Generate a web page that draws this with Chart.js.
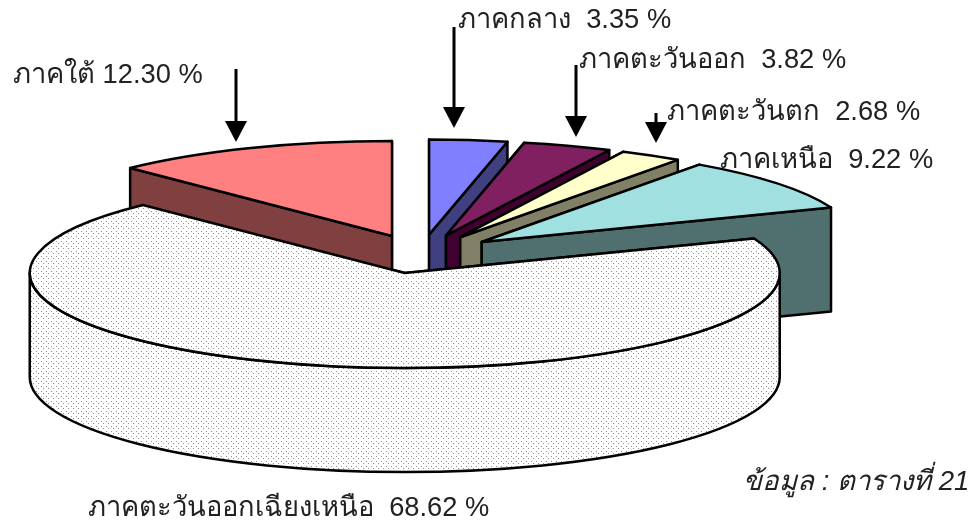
<!DOCTYPE html>
<html lang="th">
<head>
<meta charset="utf-8">
<title>Pie</title>
<script src="https://cdn.jsdelivr.net/npm/chart.js@4"></script>
<style>
  html, body { margin: 0; background: #fff; }
  canvas { display: block; }
</style>
</head>
<body>
<canvas id="regionChart" width="974" height="521"></canvas>
<script>
const categories = ['ภาคกลาง', 'ภาคตะวันออก', 'ภาคตะวันตก', 'ภาคเหนือ', 'ภาคตะวันออกเฉียงเหนือ', 'ภาคใต้'];
const shares = [3.35, 3.82, 2.68, 9.22, 68.62, 12.30];
const sourceNote = 'ข้อมูล : ตารางที่ 21';

const topColors = ['#8080ff', '#802060', '#ffffcc', '#a0e0e0', '#fff', '#ff8080'];
const wallColors = ['#404080', '#400030', '#808066', '#507070', null, '#804040'];

// pie geometry on the page
const centerX = 421, centerY = 254, radius = 375;
const squash = 0.2533, explode = 77, depth = 104;

// label anchors, same order as categories
const labelPos = [[458, 28], [579, 68], [667, 120], [720, 168], [88, 516], [13, 83]];
const labelGap = ['  ', '  ', '  ', '  ', '  ', ' '];
const arrows = [[454, 27, 128], [576, 65, 137], [656, 113, 143], [236, 69, 142]];

function dotPattern() {
  const tile = document.createElement('canvas');
  tile.width = 5; tile.height = 5;
  const t = tile.getContext('2d');
  t.fillStyle = '#fff';
  t.fillRect(0, 0, 5, 5);
  t.fillStyle = '#909090';
  t.fillRect(1, 1, 1, 1);
  t.fillRect(3, 3, 1, 1);
  return tile;
}

const ctx = document.getElementById('regionChart').getContext('2d');
const dots = ctx.createPattern(dotPattern(), 'repeat');

function apex(arc) {
  return { x: arc.x, y: centerY + (arc.y - centerY) * squash };
}

function rim(arc, angle) {
  const a = apex(arc);
  return { x: a.x + Math.cos(angle) * radius, y: a.y + Math.sin(angle) * radius * squash };
}

function radialWall(c, arc, angle) {
  const a = apex(arc), r = rim(arc, angle);
  c.beginPath();
  c.moveTo(a.x, a.y);
  c.lineTo(r.x, r.y);
  c.lineTo(r.x, r.y + depth);
  c.lineTo(a.x, a.y + depth);
  c.closePath();
  c.fill();
  c.stroke();
}

function drawWalls(c, arc, i) {
  c.fillStyle = wallColors[i] || dots;
  const edges = [arc.startAngle, arc.endAngle].sort((p, q) => rim(arc, p).y - rim(arc, q).y);
  edges.forEach((e) => radialWall(c, arc, e));

  // outer wall, only the part facing the viewer
  const from = Math.max(arc.startAngle, 0), to = Math.min(arc.endAngle, Math.PI);
  if (to > from) {
    const a = apex(arc), rx = radius, ry = radius * squash;
    c.beginPath();
    c.ellipse(a.x, a.y, rx, ry, 0, from, to);
    c.ellipse(a.x, a.y + depth, rx, ry, 0, to, from, true);
    c.closePath();
    c.fill();
    c.stroke();
  }
}

const pie3d = {
  id: 'pie3d',
  afterDatasetsUpdate(chart) {
    chart.getDatasetMeta(0).data.forEach((arc) => {
      const mid = (arc.startAngle + arc.endAngle) / 2;
      arc.x = centerX + Math.cos(mid) * explode;
      arc.y = centerY + Math.sin(mid) * explode;
    });
  },
  beforeDatasetsDraw(chart) {
    const c = chart.ctx;
    c.save();
    c.lineWidth = 2.5;
    c.lineJoin = 'round';
    c.strokeStyle = '#000';
    chart.getDatasetMeta(0).data.forEach((arc, i) => drawWalls(c, arc, i));
    c.restore();
    c.save();
    c.transform(1, 0, 0, squash, 0, centerY * (1 - squash));
  },
  afterDatasetsDraw(chart) {
    const c = chart.ctx;
    c.restore();
    c.save();
    c.lineWidth = 2.5;
    c.lineJoin = 'round';
    c.strokeStyle = '#000';
    chart.getDatasetMeta(0).data.forEach((arc, i) => {
      const a = apex(arc);
      c.beginPath();
      c.moveTo(a.x, a.y);
      c.ellipse(a.x, a.y, radius, radius * squash, 0, arc.startAngle, arc.endAngle);
      c.closePath();
      // dotted slice gets its pattern here, outside the squash transform
      if (!wallColors[i]) {
        c.fillStyle = dots;
        c.fill();
      }
      c.stroke();
    });
    c.restore();
  },
  afterDraw(chart) {
    const c = chart.ctx;
    c.save();
    c.fillStyle = '#222';
    c.font = '27.3px "Liberation Sans", "Noto Sans", "DejaVu Sans", sans-serif';
    c.textBaseline = 'alphabetic';
    categories.forEach((name, i) => {
      c.fillText(name + labelGap[i] + shares[i].toFixed(2) + ' %', labelPos[i][0], labelPos[i][1]);
    });
    c.font = 'italic 27.6px "Liberation Sans", "Noto Sans", "DejaVu Sans", sans-serif';
    c.fillText(sourceNote, 743, 490);

    c.fillStyle = '#000';
    arrows.forEach(([x, y0, y1]) => {
      c.fillRect(x - 1.5, y0, 3, y1 - y0 - 18);
      c.beginPath();
      c.moveTo(x - 11, y1 - 21);
      c.lineTo(x + 11, y1 - 21);
      c.lineTo(x, y1);
      c.closePath();
      c.fill();
    });
    c.restore();
  }
};

new Chart(ctx, {
  type: 'pie',
  data: {
    labels: categories,
    datasets: [{
      data: shares,
      radius: radius,
      clip: false,
      borderWidth: 0,
      backgroundColor: topColors
    }]
  },
  options: {
    responsive: false,
    animation: false,
    events: [],
    layout: { padding: 0 },
    plugins: { legend: { display: false }, tooltip: { enabled: false }, title: { display: false } }
  },
  plugins: [pie3d]
});
</script>
</body>
</html>
